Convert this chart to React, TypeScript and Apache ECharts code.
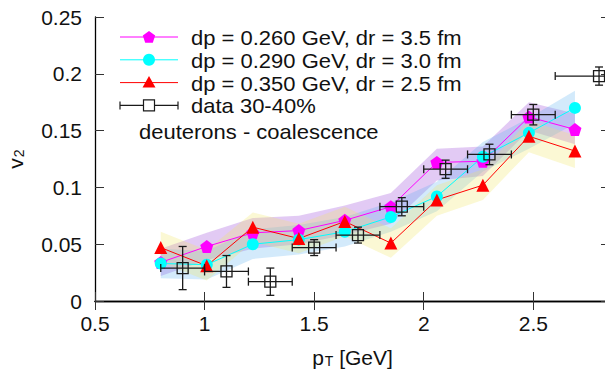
import React, { useEffect, useRef } from 'react';
import * as echarts from 'echarts';

// model transverse-momentum bins (GeV)
const modelPt = [0.8, 1.01, 1.22, 1.43, 1.64, 1.85, 2.06, 2.27, 2.48, 2.69];

// coalescence results: v2 and its uncertainty band
const v2Dp260 = [0.034, 0.048, 0.060, 0.062, 0.071, 0.083, 0.122, 0.123, 0.162, 0.151];
const loDp260 = [0.022, 0.036, 0.046, 0.050, 0.058, 0.068, 0.106, 0.110, 0.150, 0.138];
const hiDp260 = [0.046, 0.060, 0.073, 0.075, 0.084, 0.095, 0.134, 0.136, 0.175, 0.165];

const v2Dp290 = [0.033, 0.032, 0.050, 0.054, 0.061, 0.074, 0.092, 0.127, 0.148, 0.170];
const loDp290 = [0.020, 0.019, 0.037, 0.041, 0.048, 0.061, 0.079, 0.114, 0.134, 0.156];
const hiDp290 = [0.046, 0.044, 0.063, 0.067, 0.074, 0.087, 0.105, 0.140, 0.161, 0.185];

const v2Dp350 = [0.047, 0.031, 0.065, 0.055, 0.070, 0.051, 0.089, 0.102, 0.145, 0.132];
const loDp350 = [0.034, 0.018, 0.052, 0.042, 0.057, 0.038, 0.075, 0.089, 0.131, 0.117];
const hiDp350 = [0.061, 0.045, 0.078, 0.068, 0.083, 0.064, 0.102, 0.116, 0.159, 0.146];

// measured deuteron v2, 30-40% centrality
const dataPt = [0.9, 1.1, 1.3, 1.5, 1.7, 1.9, 2.1, 2.3, 2.5, 2.8];
const dataV2 = [0.029, 0.026, 0.017, 0.047, 0.058, 0.083, 0.116, 0.129, 0.164, 0.198];
const dataPtErr = [0.1, 0.1, 0.1, 0.1, 0.1, 0.1, 0.1, 0.1, 0.1, 0.2];
const dataV2Err = [0.019, 0.014, 0.012, 0.007, 0.007, 0.008, 0.008, 0.009, 0.009, 0.008];

const seriesNames = [
  'dp = 0.260 GeV, dr = 3.5 fm',
  'dp = 0.290 GeV, dr = 3.0 fm',
  'dp = 0.350 GeV, dr = 2.5 fm',
  'data 30-40%',
];
const annotation = 'deuterons - coalescence';

const FONT = "'Liberation Sans', Arial, Helvetica, sans-serif";
const MAGENTA = '#ff00ff';
const CYAN = '#00ffff';
const RED = '#ff0000';
const INK = '#1a1a1a';

const PENTAGON = 'path://M0,-10L9.51,-3.09L5.88,8.09L-5.88,8.09L-9.51,-3.09Z';

function bandSeries(lo: number[], hi: number[], fill: string) {
  return {
    type: 'custom',
    silent: true,
    z: 1,
    data: modelPt.map((x, i) => [x, lo[i], hi[i]]),
    encode: { x: 0, y: [1, 2] },
    renderItem: (params: any, api: any) => {
      if (params.dataIndex !== 0) return null;
      const pts: number[][] = [];
      for (let i = 0; i < modelPt.length; i++) pts.push(api.coord([modelPt[i], hi[i]]));
      for (let i = modelPt.length - 1; i >= 0; i--) pts.push(api.coord([modelPt[i], lo[i]]));
      return { type: 'polygon', shape: { points: pts }, style: { fill } };
    },
  };
}

function modelSeries(name: string, values: number[], color: string, symbol: string, size: number) {
  return {
    name,
    type: 'line',
    z: 2,
    data: modelPt.map((x, i) => [x, values[i]]),
    symbol,
    symbolSize: size,
    showAllSymbol: true,
    lineStyle: { color, width: 1 },
    itemStyle: { color, borderWidth: 0 },
  };
}

function pentagonPoints(cx: number, cy: number, r: number) {
  const pts: number[][] = [];
  for (let k = 0; k < 5; k++) {
    const a = -Math.PI / 2 + (k * 2 * Math.PI) / 5;
    pts.push([cx + r * Math.cos(a), cy + r * Math.sin(a)]);
  }
  return pts;
}

function legendGraphics() {
  const x1 = 120;
  const x2 = 178;
  const xm = 149;
  const tx = 191;
  const rows = [37, 59.8, 82.6, 105.4];
  const legendFont = 20.3;
  const stretch = 1.084;
  const els: any[] = [];
  const colors = [MAGENTA, CYAN, RED];
  colors.forEach((c, i) => {
    els.push({ type: 'line', shape: { x1, y1: rows[i], x2, y2: rows[i] }, style: { stroke: c, lineWidth: 1 } });
  });
  els.push({ type: 'polygon', shape: { points: pentagonPoints(xm, rows[0] + 0.5, 6.5) }, style: { fill: MAGENTA } });
  els.push({ type: 'circle', shape: { cx: xm, cy: rows[1], r: 6 }, style: { fill: CYAN } });
  els.push({
    type: 'polygon',
    shape: { points: [[xm, rows[2] - 6.5], [xm + 6.5, rows[2] + 5], [xm - 6.5, rows[2] + 5]] },
    style: { fill: RED },
  });
  const y = rows[3];
  els.push({ type: 'line', shape: { x1, y1: y, x2, y2: y }, style: { stroke: INK, lineWidth: 1.2 } });
  els.push({ type: 'line', shape: { x1, y1: y - 4, x2: x1, y2: y + 4 }, style: { stroke: INK, lineWidth: 1.2 } });
  els.push({ type: 'line', shape: { x1: x2, y1: y - 4, x2, y2: y + 4 }, style: { stroke: INK, lineWidth: 1.2 } });
  els.push({ type: 'rect', shape: { x: xm - 5.5, y: y - 5.5, width: 11, height: 11 }, style: { fill: '#ffffff', stroke: INK, lineWidth: 1.2 } });
  seriesNames.forEach((t, i) => {
    els.push({
      type: 'text',
      x: tx,
      y: rows[i] + 0.8,
      scaleX: stretch,
      style: { text: t, fill: '#111', fontSize: legendFont, fontFamily: FONT, verticalAlign: 'middle', align: 'left' },
    });
  });
  els.push({
    type: 'text',
    x: 139,
    y: 132,
    scaleX: stretch,
    style: { text: annotation, fill: '#111', fontSize: legendFont, fontFamily: FONT, verticalAlign: 'middle', align: 'left' },
  });
  return els.map((e) => ({ ...e, z: 10, silent: true }));
}

const subRich = {
  p: { fontSize: 21, fontFamily: FONT, color: '#111', lineHeight: 22, verticalAlign: 'top' },
  s: { fontSize: 14, fontFamily: FONT, color: '#111', lineHeight: 22, verticalAlign: 'top', padding: [7, 0, 0, 1] },
};

export default function App() {
  const ref = useRef<HTMLDivElement>(null);

  useEffect(() => {
    if (!ref.current) return;
    const chart = echarts.init(ref.current, null, { renderer: 'svg' });

    const axisText = { fontSize: 21, color: '#111', fontFamily: FONT };
    const tick = { show: true, inside: true, length: 9, lineStyle: { color: '#333', width: 1 } };
    const line = { show: true, lineStyle: { color: '#000', width: 1.3 } };

    chart.setOption({
      animation: false,
      backgroundColor: '#ffffff',
      grid: { left: 95, top: 17, height: 284, width: 515, containLabel: false, outerBoundsMode: 'none' },
      xAxis: [
        {
          type: 'value',
          min: 0.5,
          max: 2.85,
          interval: 0.5,
          position: 'bottom',
          axisLine: line,
          axisTick: tick,
          splitLine: { show: false },
          axisLabel: { ...axisText, margin: 12, showMaxLabel: false },
          name: '{p|p}{s|T}{p| [GeV]}',
          nameLocation: 'middle',
          nameGap: 46,
          nameTextStyle: { rich: subRich },
        },
        {
          type: 'value',
          min: 0.5,
          max: 2.85,
          interval: 0.5,
          position: 'top',
          axisLine: line,
          axisTick: tick,
          splitLine: { show: false },
          axisLabel: { show: false },
        },
      ],
      yAxis: [
        {
          type: 'value',
          min: 0,
          max: 0.25,
          interval: 0.05,
          position: 'left',
          axisLine: line,
          axisTick: tick,
          splitLine: { show: false },
          axisLabel: { ...axisText, margin: 13 },
          name: '{p|v}{s|2}',
          nameLocation: 'middle',
          nameGap: 68,
          nameRotate: 90,
          nameTextStyle: { rich: subRich },
        },
        {
          type: 'value',
          min: 0,
          max: 0.25,
          interval: 0.05,
          position: 'right',
          axisLine: line,
          axisTick: tick,
          splitLine: { show: false },
          axisLabel: { show: false },
        },
      ],
      series: [
        bandSeries(loDp260, hiDp260, 'rgba(160, 80, 220, 0.30)'),
        bandSeries(loDp290, hiDp290, 'rgba(80, 170, 240, 0.25)'),
        bandSeries(loDp350, hiDp350, 'rgba(240, 230, 100, 0.28)'),
        modelSeries(seriesNames[0], v2Dp260, MAGENTA, PENTAGON, 13),
        modelSeries(seriesNames[1], v2Dp290, CYAN, 'circle', 12),
        modelSeries(seriesNames[2], v2Dp350, RED, 'triangle', 13),
        {
          name: seriesNames[3],
          type: 'custom',
          z: 3,
          silent: true,
          data: dataPt.map((x, i) => [x, dataV2[i], dataPtErr[i], dataV2Err[i]]),
          encode: { x: 0, y: 1 },
          renderItem: (_params: any, api: any) => {
            const x = api.value(0);
            const y = api.value(1);
            const dx = api.value(2);
            const dy = api.value(3);
            const c = api.coord([x, y]);
            const l = api.coord([x - dx, y]);
            const r = api.coord([x + dx, y]);
            const t = api.coord([x, y + dy]);
            const b = api.coord([x, y - dy]);
            const st = { stroke: INK, lineWidth: 1.3, fill: 'none' };
            const cap = 4;
            return {
              type: 'group',
              children: [
                { type: 'line', shape: { x1: l[0], y1: l[1], x2: r[0], y2: r[1] }, style: st },
                { type: 'line', shape: { x1: l[0], y1: l[1] - cap, x2: l[0], y2: l[1] + cap }, style: st },
                { type: 'line', shape: { x1: r[0], y1: r[1] - cap, x2: r[0], y2: r[1] + cap }, style: st },
                { type: 'line', shape: { x1: t[0], y1: t[1], x2: b[0], y2: b[1] }, style: st },
                { type: 'line', shape: { x1: t[0] - cap, y1: t[1], x2: t[0] + cap, y2: t[1] }, style: st },
                { type: 'line', shape: { x1: b[0] - cap, y1: b[1], x2: b[0] + cap, y2: b[1] }, style: st },
                { type: 'rect', shape: { x: c[0] - 5.5, y: c[1] - 5.5, width: 11, height: 11 }, style: st },
              ],
            };
          },
        },
      ],
      graphic: legendGraphics(),
    });

    return () => chart.dispose();
  }, []);

  return (
    <div
      ref={ref}
      style={{ position: 'fixed', left: 0, top: 0, width: 605, height: 370, overflow: 'hidden' }}
    />
  );
}
